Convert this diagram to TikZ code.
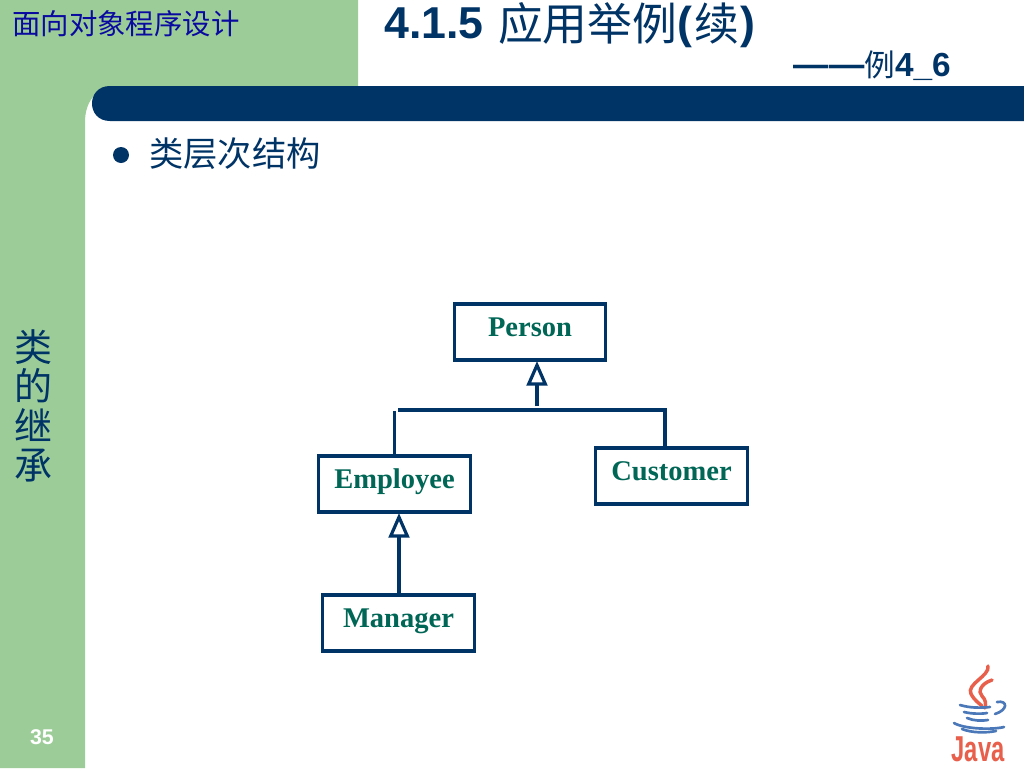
\documentclass[tikz,border=0pt]{standalone}
\usepackage{fontspec}
\setmainfont{Liberation Sans}
\newfontfamily\serifbold[BoldFont={Liberation Serif Bold}]{Liberation Serif}
\newfontfamily\cjk{Noto Sans CJK SC}
\newcommand{\titlecjk}[1]{\raisebox{-2.2pt}{\cjk\mdseries\fontsize{33.6pt}{38pt}\selectfont #1}}
\usetikzlibrary{arrows.meta}
\definecolor{sidegreen}{HTML}{9CCC98}
\definecolor{navy}{HTML}{003366}
\definecolor{headblue}{HTML}{0A0AA0}
\definecolor{boxtext}{HTML}{006655}
\definecolor{javared}{HTML}{E8604C}
\definecolor{javablue}{HTML}{4A78B8}
\tikzset{
  classbox/.style={draw=navy,line width=2.4pt,fill=white,inner sep=0pt,minimum width=113.5pt,
    text height=24pt,text depth=18pt,text=boxtext,font={\serifbold\bfseries\fontsize{21.4pt}{24pt}\selectfont}},
  link/.style={draw=navy,line width=2.4pt},
  inherit/.style={link,-{Triangle[open,length=18.5pt,width=15.5pt,line width=2.4pt]}},
  steam/.style={draw=javared,line width=2.6pt,line cap=round},
  cupline/.style={draw=javablue,line width=2pt,line cap=round}
}
\begin{document}
\begin{tikzpicture}[x=0.75pt,y=-0.75pt]
\useasboundingbox (0,0) rectangle (1024,768);
\fill[white] (0,0) rectangle (1024,768);
% green frame
\fill[sidegreen] (0,0) -- (358,0) -- (358,86) -- (118,86) .. controls (98,86) and (85,100) .. (85,122) -- (85,768) -- (0,768) -- cycle;
% navy bar
\fill[navy] (1024,86) -- (110,86) .. controls (86,86) and (86,121) .. (110,121) -- (1024,121) -- cycle;
% headings
\node[anchor=base west,inner sep=0pt,text=headblue,font={\cjk\fontsize{21.3pt}{24pt}\selectfont}] (course) at (12,34) {面向对象程序设计};
\node[anchor=base west,inner sep=0pt,text=navy,font={\bfseries\fontsize{33.5pt}{38pt}\selectfont}] (title) at (384,38) {4.1.5 \kern1.5pt\titlecjk{应用举例}\kern0.5pt(\kern1pt\titlecjk{续}\kern1pt)};
\node[anchor=base east,inner sep=0pt,text=navy,font={\bfseries\fontsize{25pt}{30pt}\selectfont}] (sub) at (951,76) {{\fontsize{26.5pt}{30pt}\selectfont ——}{\cjk\mdseries\fontsize{23pt}{30pt}\selectfont 例}4\_6};
% bullet
\fill[navy] (121,155) circle (8);
\node[anchor=base west,inner sep=0pt,text=navy,font={\cjk\fontsize{25.7pt}{30pt}\selectfont}] (bullet) at (149,166) {类层次结构};
% side text
\node[align=center,inner sep=0pt,text=navy,font={\cjk\fontsize{28.5pt}{29.6pt}\selectfont}] (side) at (33,406) {类\\的\\继\\承};
\node[inner sep=0pt,text=white,font={\bfseries\fontsize{16pt}{18pt}\selectfont}] (page) at (42,737) {35};
% classes
\node[classbox] (person) at (530,332) {Person};
\node[classbox] (employee) at (394.5,484) {Employee};
\node[classbox] (customer) at (671.5,476) {Customer};
\node[classbox] (manager) at (398.5,623) {Manager};
% connectors
\coordinate (pjoin) at (537,406);
\coordinate (ptip) at (537,361);
\coordinate (busL) at (398,410);
\coordinate (busR) at (665,410);
\coordinate (custTop) at (665,447);
\coordinate (empBus) at (394.5,411);
\coordinate (mgrOut) at (399,594);
\coordinate (empIn) at (399,513);
\draw[inherit] (pjoin) -- (ptip);
\draw[link] (busL) -- (busR) -- (custTop);
\draw[link] (empBus) -- (employee.north);
\draw[inherit] (mgrOut) -- (empIn);
% java logo
\draw[steam] (988,666) .. controls (990,676) and (966,684) .. (971,694) .. controls (974,700) and (980,704) .. (982,706);
\draw[steam] (992,680) .. controls (980,684) and (978,692) .. (982,696) .. controls (986,700) and (986,704) .. (985,708);
\draw[cupline] (960,705) .. controls (970,708) and (980,708) .. (990,707);
\draw[cupline] (964,712) .. controls (972,714) and (982,714) .. (987,713);
\draw[cupline] (967,718) .. controls (974,721) and (982,721) .. (988,720);
\draw[cupline] (997,702) .. controls (1008,700) and (1008,710) .. (995,714);
\draw[cupline] (954,723) .. controls (964,729) and (992,730) .. (1004,727);
\draw[cupline] (962,729) .. controls (972,733) and (986,733) .. (996,731);
\node[inner sep=0pt,text=javared,xscale=.66,font={\bfseries\fontsize{27pt}{30pt}\selectfont}] (java) at (978,749) {Java};
\end{tikzpicture}
\end{document}
